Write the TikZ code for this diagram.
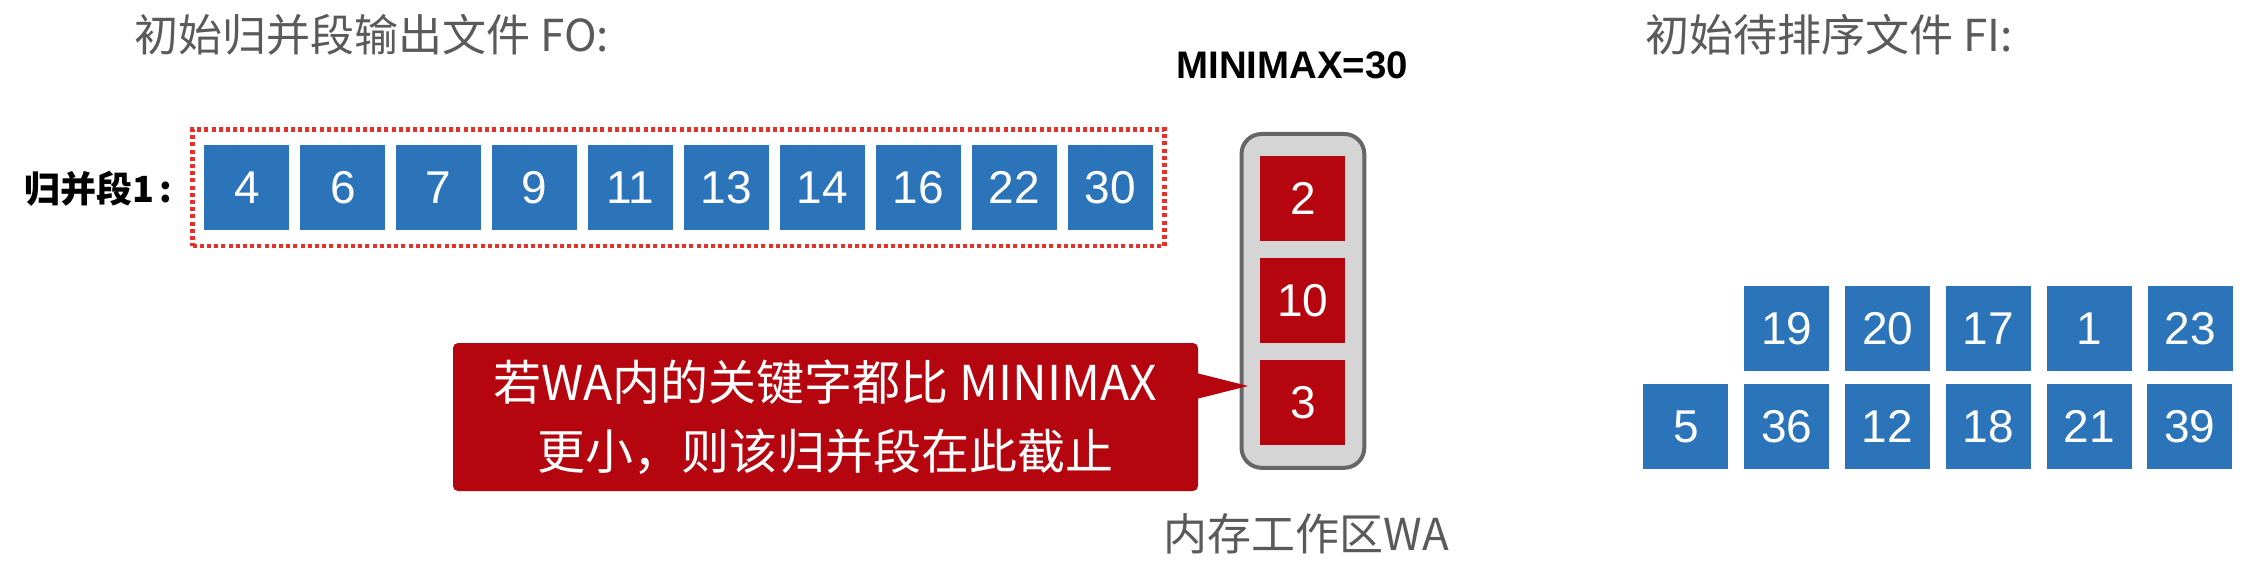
\documentclass[tikz,border=0pt]{standalone}
\usepackage{fontspec}
\setmainfont{Liberation Sans}
\newfontfamily\cjk{Noto Sans CJK SC}
\usetikzlibrary{fit,calc}
\definecolor{boxblue}{HTML}{2B74BA}
\definecolor{boxred}{HTML}{B5060F}
\definecolor{dashred}{HTML}{E8302A}
\definecolor{txtgray}{HTML}{5A5A5A}
\definecolor{wagray}{HTML}{D5D5D5}
\definecolor{waedge}{HTML}{666666}
\begin{document}
\begin{tikzpicture}[x=0.5pt,y=-0.5pt,
  numbox/.style={rectangle, minimum width=42.5pt, minimum height=42.5pt, inner sep=0pt,
    text=white, font=\fontsize{23}{23}\selectfont, anchor=north west},
  bluebox/.style={numbox, fill=boxblue},
  redbox/.style={numbox, fill=boxred},
  title/.style={anchor=base west, inner sep=0pt, text=txtgray, font=\cjk\fontsize{22}{22}\selectfont},
  runframe/.style={draw=dashred, line width=2.2pt, dash pattern=on 2pt off 1.6pt,
    inner xsep=5.75pt, inner ysep=7.75pt},
  waframe/.style={draw=waedge, fill=wagray, line width=2pt, rounded corners=10pt,
    inner xsep=9.25pt, inner ysep=11pt},
  callout/.style={rectangle, fill=boxred, rounded corners=2.5pt, text=white, align=center,
    inner sep=0pt, minimum width=372.5pt, minimum height=74pt,
    font=\cjk\fontsize{24}{34.5}\selectfont}
]
\useasboundingbox (0,0) rectangle (2259,588);

% titles
\node[title] (tfo) at (134,52) {初始归并段输出文件 FO:};
\node[title] (tfi) at (1645,52) {初始待排序文件 FI:};
\node[anchor=base west, inner sep=0pt, font=\bfseries\fontsize{19.2}{19.2}\selectfont] (mm) at (1176,79) {MINIMAX=30};

% run 1
\node[anchor=base east, inner sep=0pt, font=\cjk\bfseries\fontsize{18}{18}\selectfont] (lab) at (173,203) {归并段1\,:};
\foreach \v [count=\i from 0] in {4,6,7,9,11,13,14,16,22,30}
  \node[bluebox] (s\i) at ({204+95.9*\i},145) {\v};
\node[runframe, fit=(s0)(s9)] (run) {};

% work area
\node[redbox] (w1) at (1260,156) {};
\node[redbox] (w2) at (1260,258) {};
\node[redbox] (w3) at (1260,360) {};
\node[waframe, fit=(w1)(w3)] (wa) {};
\node[redbox] at (w1.north west) {2};
\node[redbox] at (w2.north west) {10};
\node[redbox] at (w3.north west) {3};
\node[title] (walab) at (1163,550) {内存工作区WA};

% input file
\foreach \v [count=\i from 0] in {19,20,17,1,23}
  \node[bluebox] (t\i) at ({1744+100.8*\i},286) {\v};
\foreach \v [count=\i from 0] in {5,36,12,18,21,39}
  \node[bluebox] (b\i) at ({1643+100.8*\i},384) {\v};

% callout
\node[callout] (call) at (825.5,417) {若WA内的关键字都比 MINIMAX\\更小，则该归并段在此截止};
\coordinate (tip) at (1248,386);
\fill[boxred] ([xshift=-1pt,yshift=22pt]call.east) -- (tip) -- ([xshift=-1pt,yshift=9pt]call.east) -- cycle;
\end{tikzpicture}
\end{document}
